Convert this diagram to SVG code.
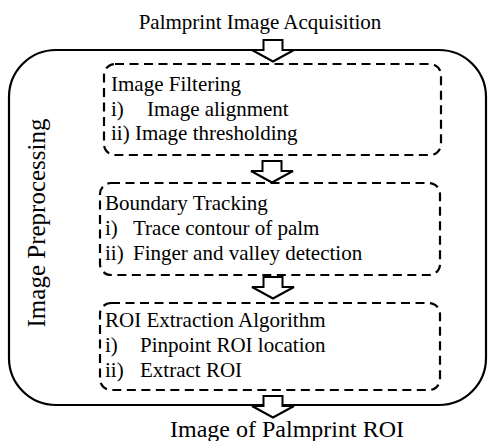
<svg xmlns="http://www.w3.org/2000/svg" width="488" height="441" viewBox="0 0 488 441">
<defs>
<style>
text{font-family:"Liberation Serif","Times New Roman",serif;fill:#000}
.t{font-size:21px}
.outer{fill:none;stroke:#000;stroke-width:2.2}
.dash{fill:none;stroke:#000;stroke-width:2.2;stroke-dasharray:9,5.5}
.arr{fill:#fff;stroke:#000;stroke-width:2}
</style>
<path id="blk" d="M-9.5,0 H9.5 V10 H21 L0,21.5 L-21,10 H-9.5 Z"/>
</defs>
<rect width="488" height="441" fill="#fff"/>
<text class="t" x="260" y="29" text-anchor="middle">Palmprint Image Acquisition</text>
<g id="preprocessing">
<rect class="outer" x="9" y="50" width="477" height="355" rx="47" ry="47"/>
<text x="0" y="0" font-size="25" text-anchor="middle" transform="translate(45,223) rotate(-90)">Image Preprocessing</text>
</g>
<g id="filtering">
<rect class="dash" x="104" y="64" width="337" height="91" rx="11" ry="11"/>
<text class="t" x="111" y="91">Image Filtering</text>
<text class="t" x="111" y="116">i)</text><text class="t" x="147" y="116">Image alignment</text>
<text class="t" x="111" y="140">ii) Image thresholding</text>
</g>
<g id="boundary">
<rect class="dash" x="100" y="183" width="340" height="92" rx="11" ry="11"/>
<text class="t" x="105" y="210">Boundary Tracking</text>
<text class="t" x="105" y="235">i)</text><text class="t" x="133" y="235">Trace contour of palm</text>
<text class="t" x="105" y="260">ii)</text><text class="t" x="133" y="260">Finger and valley detection</text>
</g>
<g id="roi">
<rect class="dash" x="100" y="303" width="340" height="87" rx="11" ry="11"/>
<text class="t" x="105" y="327">ROI Extraction Algorithm</text>
<text class="t" x="105" y="352">i)</text><text class="t" x="140" y="352">Pinpoint ROI location</text>
<text class="t" x="105" y="377">ii)</text><text class="t" x="140" y="377">Extract ROI</text>
</g>
<g id="connectors">
<use href="#blk" class="arr" transform="translate(273,40)"/>
<use href="#blk" class="arr" transform="translate(272,161)"/>
<use href="#blk" class="arr" transform="translate(273,277)"/>
<use href="#blk" class="arr" transform="translate(273,396)"/>
</g>
<text x="287" y="437" font-size="24" text-anchor="middle">Image of Palmprint ROI</text>
</svg>
